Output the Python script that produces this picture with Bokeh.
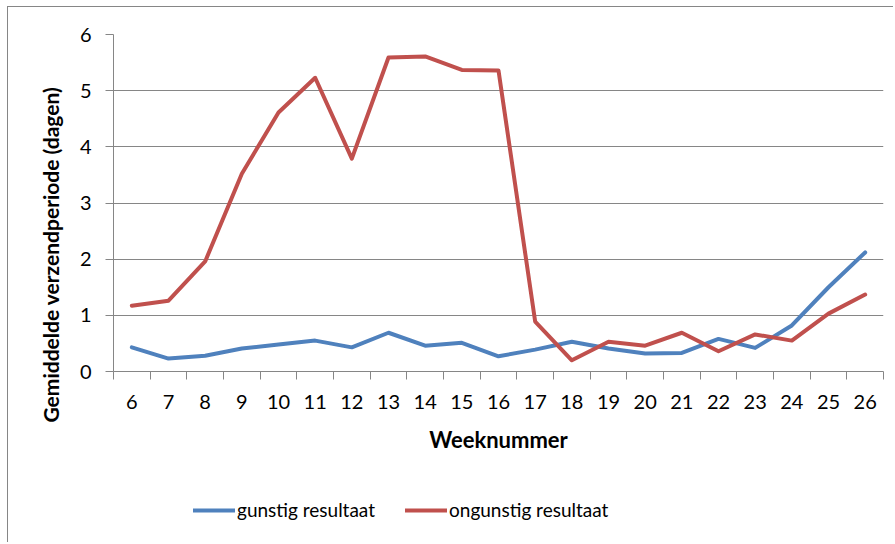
from bokeh.plotting import figure
from bokeh.layouts import column
from bokeh.models import Range1d, FixedTicker, Legend, LegendItem, Title
from bokeh.embed import file_html
from bokeh.resources import INLINE

weeks = [6, 7, 8, 9, 10, 11, 12, 13, 14, 15, 16, 17, 18, 19, 20, 21, 22, 23, 24, 25, 26]
gunstig = [0.43, 0.23, 0.28, 0.41, 0.48, 0.55, 0.43, 0.69, 0.46, 0.51, 0.27,
           0.39, 0.53, 0.41, 0.32, 0.33, 0.58, 0.42, 0.82, 1.50, 2.12]
ongunstig = [1.17, 1.26, 1.96, 3.52, 4.61, 5.23, 3.79, 5.59, 5.61, 5.37, 5.36,
             0.89, 0.20, 0.53, 0.46, 0.69, 0.36, 0.66, 0.55, 1.03, 1.37]
y_ticks = [0, 1, 2, 3, 4, 5, 6]
series_names = ["gunstig resultaat", "ongunstig resultaat"]
y_title = "Gemiddelde verzendperiode (dagen)"
x_title = "Weeknummer"

BLUE = "#4F81BD"
RED = "#C0504D"
GRID = "#868686"
FONT = "Lato"

p = figure(width=886, height=464, output_backend="svg", toolbar_location=None,
           x_range=Range1d(weeks[0] - 0.5, weeks[-1] + 0.5), y_range=Range1d(0, 6),
           min_border_left=105, min_border_top=27, min_border_right=11, min_border_bottom=100,
           styles={"border-left": "1px solid #868686", "border-top": "1px solid #868686",
                   "margin-left": "7px", "margin-top": "6px"})
p.outline_line_color = None
p.background_fill_color = "white"
p.border_fill_color = "white"

# x axis: labels at week centres, tick marks at category boundaries (minor ticks)
bounds = [w - 0.5 for w in weeks] + [weeks[-1] + 0.5]
p.xaxis.ticker = FixedTicker(ticks=weeks, minor_ticks=bounds)
p.xaxis.major_tick_out = 0
p.xaxis.major_tick_in = 0
p.xaxis.minor_tick_out = 8
p.xaxis.minor_tick_in = 0
p.xaxis.minor_tick_line_color = GRID
p.xaxis.axis_line_color = GRID
p.xaxis.major_label_text_font = FONT
p.xaxis.major_label_text_font_size = "20px"
p.xaxis.major_label_text_color = "black"
p.xaxis.major_label_standoff = 15
p.xaxis.axis_label = x_title
p.xaxis.axis_label_text_font = FONT
p.xaxis.axis_label_text_font_style = "bold"
p.xaxis.axis_label_text_font_size = "22px"
p.xaxis.axis_label_text_color = "black"
p.xaxis.axis_label_standoff = 14
p.xgrid.grid_line_color = None

p.yaxis.ticker = FixedTicker(ticks=y_ticks)
p.yaxis.minor_tick_line_color = None
p.yaxis.major_tick_out = 8
p.yaxis.major_tick_in = 0
p.yaxis.major_tick_line_color = GRID
p.yaxis.axis_line_color = GRID
p.yaxis.major_label_text_font = FONT
p.yaxis.major_label_text_font_size = "20px"
p.yaxis.major_label_text_color = "black"
p.yaxis.major_label_standoff = 14
p.ygrid.grid_line_color = GRID
p.ygrid.grid_line_width = 1

r1 = p.line(weeks, gunstig, line_color=BLUE, line_width=4, line_join="round", line_cap="round")
r2 = p.line(weeks, ongunstig, line_color=RED, line_width=4, line_join="round", line_cap="round")

p.add_layout(Title(text=y_title, align="left", offset=-51, standoff=27,
                   text_font=FONT, text_font_style="bold", text_font_size="21px",
                   text_color="black"), "left")

# legend strip below the chart (its lines lie outside its own visible range)
lg = figure(width=886, height=72, output_backend="svg", toolbar_location=None,
            x_range=Range1d(0, 1), y_range=Range1d(0, 1),
            x_axis_type=None, y_axis_type=None,
            min_border_left=0, min_border_right=0, min_border_top=0, min_border_bottom=0,
            styles={"border-left": "1px solid #868686", "margin-left": "7px"})
lg.outline_line_color = None
lg.xgrid.visible = False
lg.ygrid.visible = False
k1 = lg.line(weeks, gunstig, line_color=BLUE, line_width=4, line_cap="round")
k2 = lg.line(weeks, ongunstig, line_color=RED, line_width=4, line_cap="round")

legend = Legend(items=[LegendItem(label=series_names[0], renderers=[k1]),
                       LegendItem(label=series_names[1], renderers=[k2])],
                location=(80, 21), orientation="horizontal",
                label_text_font=FONT, label_text_font_size="19px", label_text_color="black",
                glyph_width=42, glyph_height=20, label_height=20, label_standoff=2,
                spacing=30, padding=0, margin=0, border_line_color=None,
                background_fill_alpha=0)
lg.add_layout(legend, "center")

layout = column(p, lg, spacing=0)
open("out.html", "w").write(file_html(layout, INLINE))
